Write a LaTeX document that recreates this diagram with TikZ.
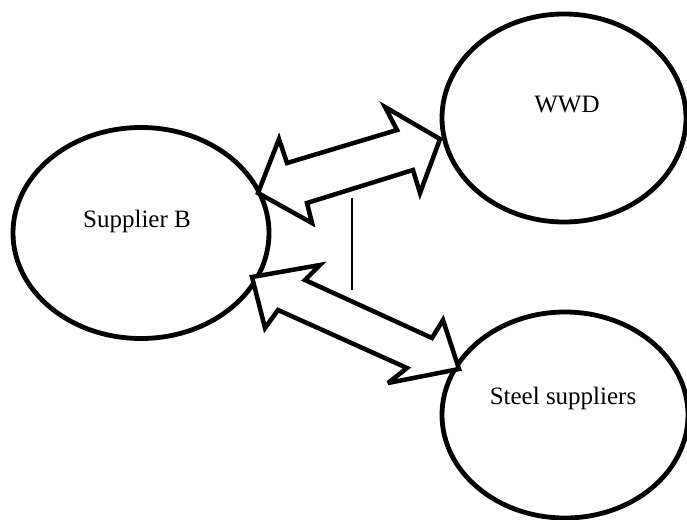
\documentclass[tikz,border=0pt]{standalone}
\usepackage{fontspec}
\setmainfont{Liberation Serif}
\usetikzlibrary{shapes.geometric}
\begin{document}
\begin{tikzpicture}[x=1pt,y=-1pt,
  party/.style={ellipse,draw,line width=4.8pt,inner sep=0pt},
  partylabel/.style={font=\fontsize{25}{30}\selectfont},
  blockarrow/.style={draw,line width=4.5pt,line join=miter,miter limit=4,fill=white},
  thinline/.style={draw,line width=1.3pt}]
\useasboundingbox (0,0) rectangle (687,519);

% the three parties
\node[party,minimum width=256pt,minimum height=211pt] (supb) at (141,233) {};
\node[party,minimum width=244pt,minimum height=208pt] (wwd) at (564,118) {};
\node[party,minimum width=246pt,minimum height=206pt] (steel) at (565,415) {};

\node[partylabel] (supbtxt) at (137,221) {Supplier B};
\node[partylabel] (wwdtxt) at (567,105) {WWD};
\node[partylabel] (steeltxt) at (563,398) {Steel suppliers};

% two-way block arrow: Supplier B <-> WWD
\coordinate (a1l) at (258,193);
\coordinate (a1r) at (440,139);
\draw[blockarrow] (a1l) -- (279,139) -- (287,163) -- (397,130) -- (385,107)
  -- (a1r) -- (420,193) -- (413,170) -- (307,203) -- (312,223) -- cycle;

% two-way block arrow: Supplier B <-> Steel suppliers
\coordinate (a2l) at (252,277);
\coordinate (a2r) at (459,369);
\draw[blockarrow] (a2l) -- (320,265) -- (305,280) -- (432,338) -- (443,320)
  -- (a2r) -- (388,383) -- (407,368) -- (278,310) -- (265,328) -- cycle;

% thin vertical rule between the arrows
\coordinate (vtop) at (352,198);
\coordinate (vbot) at (352,290);
\draw[thinline] (vtop) -- (vbot);
\end{tikzpicture}
\end{document}
